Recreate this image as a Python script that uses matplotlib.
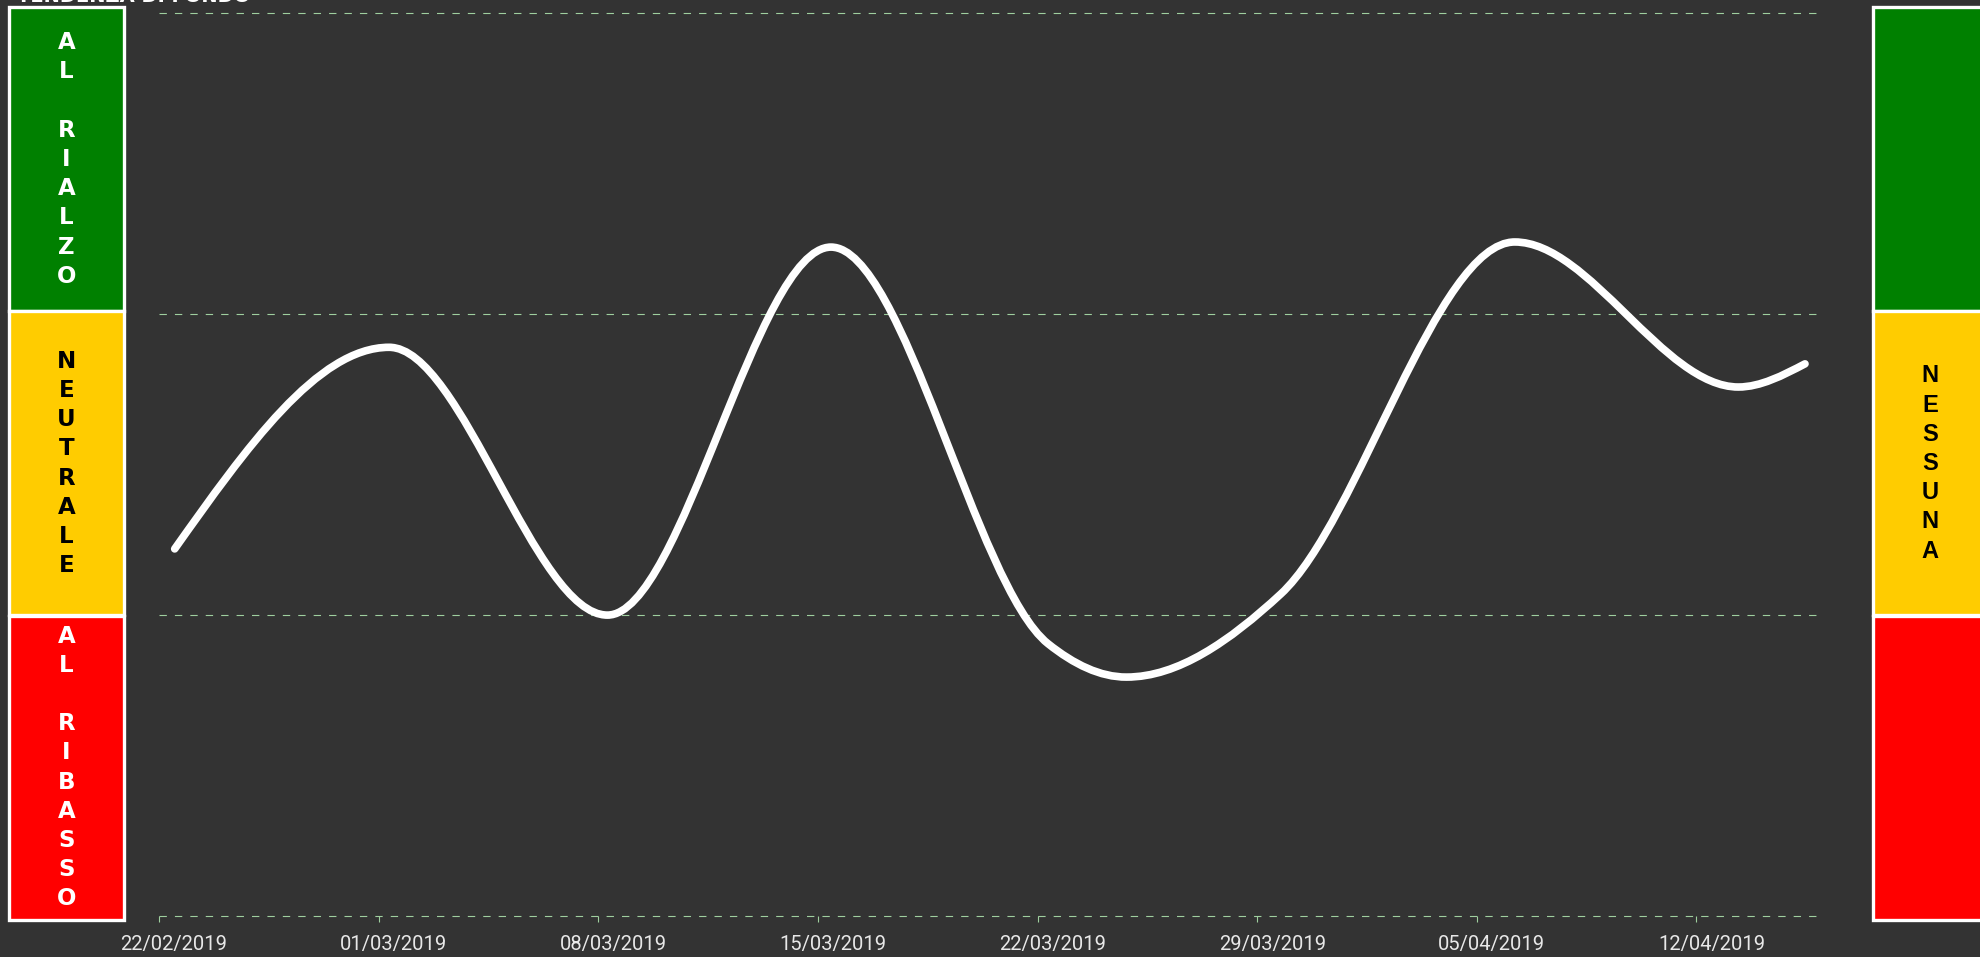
import matplotlib
matplotlib.use('Agg')
import matplotlib.pyplot as plt
import matplotlib.dates as mdates
import matplotlib.transforms as mtransforms
from matplotlib.path import Path
from matplotlib.patches import PathPatch, Rectangle
from datetime import datetime

# ---------------- data ----------------
title = "TENDENZA DI FONDO"
point_times = ["2019-02-22 12:00", "2019-03-01 08:00", "2019-03-08 07:00",
               "2019-03-15 10:00", "2019-03-22 08:00", "2019-03-24 20:00",
               "2019-03-29 18:00", "2019-04-06 05:00", "2019-04-13 08:00",
               "2019-04-15 11:00"]
trend_values = [1.22, 1.89, 1.00, 2.223, 0.905, 0.794, 1.07, 2.24, 1.758, 1.835]
tick_dates = ["2019-02-22", "2019-03-01", "2019-03-08", "2019-03-15",
              "2019-03-22", "2019-03-29", "2019-04-05", "2019-04-12"]
x_start = "2019-02-22"
x_end = "2019-04-16"
y_levels = [0, 1, 2, 3]
left_labels = ["AL RIALZO", "NEUTRALE", "AL RIBASSO"]
left_text_colors = ["white", "black", "white"]
right_labels = ["", "NESSUNA", ""]
band_colors = ["#008000", "#FFCC00", "#FF0000"]

# ---------------- style ----------------
W, H, DPI = 1981, 957, 100
BG = "#333333"
GRID = "#9fcf9f"
plt.rcParams['lines.scale_dashes'] = False

fig = plt.figure(figsize=(W / DPI, H / DPI), dpi=DPI, facecolor=BG)

def px_axes(x0, y0, x1, y1):
    """pixel box (top-down y) -> figure fraction"""
    return [x0 / W, 1 - y1 / H, (x1 - x0) / W, (y1 - y0) / H]

# ---------------- main chart ----------------
ax = fig.add_axes(px_axes(159, 13.3, 1822, 916))
ax.set_facecolor('none')
for sp in ax.spines.values():
    sp.set_visible(False)

parse = lambda s: datetime.strptime(s, "%Y-%m-%d %H:%M") if " " in s else datetime.strptime(s, "%Y-%m-%d")
xs = [float(mdates.date2num(parse(t))) for t in point_times]
ys = [float(v) for v in trend_values]

ax.set_xlim(mdates.date2num(parse(x_start)), mdates.date2num(parse(x_end)))
ax.set_ylim(y_levels[0], y_levels[-1])
ax.set_yticks(y_levels)
ax.tick_params(axis='y', length=0, labelleft=False)
ax.yaxis.grid(True, color=GRID, linestyle=(0, (5.3, 5.8)), linewidth=0.8)
for gl in ax.get_ygridlines():
    gl.set_clip_on(False)

ax.set_xticks([mdates.date2num(parse(d)) for d in tick_dates])
ax.set_xticklabels([parse(d).strftime("%d/%m/%Y") for d in tick_dates])
ax.tick_params(axis='x', direction='out', length=4.5, width=0.8, color=GRID,
               labelcolor='#e8e8e8', labelsize=14.5, pad=9.5)
label_shift = mtransforms.ScaledTranslation(15 / DPI, 0, fig.dpi_scale_trans)
for lab in ax.get_xticklabels():
    lab.set_family(['Roboto', 'DejaVu Sans'])
    lab.set_transform(lab.get_transform() + label_shift)

# smooth monotone curve (monotone-x cubic rendered as Bezier path)
def sign(v):
    return 1.0 if v > 0 else (-1.0 if v < 0 else 0.0)

n = len(xs)
h = [xs[i + 1] - xs[i] for i in range(n - 1)]
s = [(ys[i + 1] - ys[i]) / h[i] for i in range(n - 1)]
t = [0.0] * n
for i in range(1, n - 1):
    p = (s[i - 1] * h[i] + s[i] * h[i - 1]) / (h[i - 1] + h[i])
    t[i] = (sign(s[i - 1]) + sign(s[i])) * min(abs(s[i - 1]), abs(s[i]), 0.5 * abs(p))
t[0] = (3 * s[0] - t[1]) / 2
t[-1] = (3 * s[-1] - t[-2]) / 2

verts = [(xs[0], ys[0])]
codes = [Path.MOVETO]
for i in range(n - 1):
    dx = h[i] / 3
    verts += [(xs[i] + dx, ys[i] + dx * t[i]),
              (xs[i + 1] - dx, ys[i + 1] - dx * t[i + 1]),
              (xs[i + 1], ys[i + 1])]
    codes += [Path.CURVE4] * 3
patch = PathPatch(Path(verts, codes), facecolor='none', edgecolor='white',
                  linewidth=5.5, capstyle='round', joinstyle='round',
                  transform=ax.transData, clip_on=False, zorder=3)
ax.add_patch(patch)

# ---------------- side panels ----------------
SPACING = 29.2  # px between letters

def panel(x0, x1, labels, text_colors, family, size):
    pa = fig.add_axes(px_axes(x0, 7.5, x1, 919.5))
    pa.set_axis_off()
    pa.set_xlim(0, 1)
    pa.set_ylim(0, 1)
    for i, col in enumerate(band_colors):
        pa.add_patch(Rectangle((0, 1 - (i + 1) / 3), 1, 1 / 3, facecolor=col,
                               edgecolor='white', linewidth=2.4, clip_on=False))
        letters = list(labels[i])
        m = len(letters)
        for j, ch in enumerate(letters):
            if ch == ' ':
                continue
            off = (j - (m - 1) / 2) * SPACING
            tr = pa.transAxes + mtransforms.ScaledTranslation(0, -off / DPI, fig.dpi_scale_trans)
            pa.text(0.5, 1 - (i + 0.5) / 3, ch, transform=tr, ha='center', va='center',
                    fontsize=size, fontweight='bold', color=text_colors[i], family=family)
    return pa

panel(8.5, 124.5, left_labels, left_text_colors, ['DejaVu Sans'], 16.5)
panel(1872.5, 1988, right_labels, ["black", "black", "black"],
      ['Liberation Sans', 'DejaVu Sans'], 17)

# title (mostly outside the canvas as in the reference)
fig.text(17 / W, 1 - 1.5 / H, title, ha='left', va='baseline', fontsize=14,
         fontweight='bold', color='white')

fig.savefig("out.png", dpi=DPI, facecolor=BG)
